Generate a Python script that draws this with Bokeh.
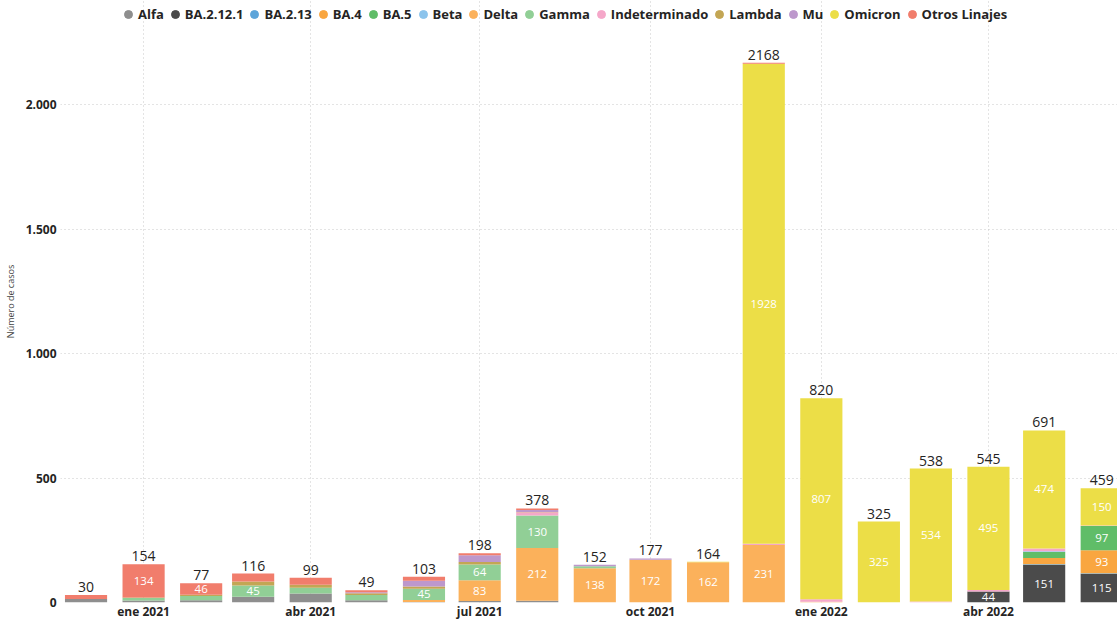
import datetime as dt
from bokeh.plotting import figure
from bokeh.models import ColumnDataSource, Legend, LegendItem, FixedTicker, Range1d
from bokeh.embed import file_html
from bokeh.resources import INLINE
from bokeh.core.properties import value

# ---------------- data ----------------
months = ["2020-12", "2021-01", "2021-02", "2021-03", "2021-04", "2021-05", "2021-06",
          "2021-07", "2021-08", "2021-09", "2021-10", "2021-11", "2021-12",
          "2022-01", "2022-02", "2022-03", "2022-04", "2022-05", "2022-06"]

lineages = ["Alfa", "BA.2.12.1", "BA.2.13", "BA.4", "BA.5", "Beta", "Delta", "Gamma",
            "Indeterminado", "Lambda", "Mu", "Omicron", "Otros Linajes"]
colors = ["#8E8E8E", "#4B4B4B", "#5DA5DA", "#F9A640", "#60BD68", "#8CC4EC", "#FBB15B",
          "#91CF96", "#F5A7C9", "#C3A654", "#BD98CC", "#ECDE47", "#F17D6C"]

alfa          = [14, 8, 9, 23, 36, 9, 2, 6, 7, 0, 0, 0, 0, 0, 0, 0, 0, 0, 0]
ba_2_12_1     = [0, 0, 0, 0, 0, 0, 0, 0, 0, 0, 0, 0, 0, 0, 0, 0, 44, 151, 115]
ba_2_13       = [0, 0, 0, 0, 0, 0, 0, 0, 0, 0, 0, 0, 0, 0, 0, 0, 0, 3, 2]
ba_4          = [0, 0, 0, 0, 0, 0, 0, 0, 0, 0, 0, 0, 0, 0, 0, 0, 0, 25, 93]
ba_5          = [0, 0, 0, 0, 0, 0, 0, 0, 0, 0, 0, 0, 0, 0, 0, 0, 0, 24, 97]
beta          = [0, 0, 0, 0, 0, 0, 0, 0, 0, 0, 0, 0, 0, 0, 0, 0, 0, 3, 0]
delta         = [0, 0, 0, 0, 0, 0, 8, 83, 212, 138, 172, 162, 231, 3, 0, 0, 0, 0, 0]
gamma         = [0, 10, 17, 45, 23, 21, 45, 64, 130, 8, 0, 0, 0, 0, 0, 0, 0, 0, 0]
indeterminado = [0, 0, 0, 0, 0, 0, 0, 0, 13, 0, 0, 0, 5, 10, 0, 4, 6, 11, 2]
lambda_       = [0, 2, 5, 16, 12, 7, 9, 10, 2, 0, 0, 0, 0, 0, 0, 0, 0, 0, 0]
mu            = [0, 0, 0, 0, 0, 4, 23, 27, 8, 6, 5, 0, 0, 0, 0, 0, 0, 0, 0]
omicron       = [0, 0, 0, 0, 0, 0, 0, 0, 0, 0, 0, 2, 1928, 807, 325, 534, 495, 474, 150]
otros         = [16, 134, 46, 32, 28, 8, 16, 8, 6, 0, 0, 0, 4, 0, 0, 0, 0, 0, 0]

series = [alfa, ba_2_12_1, ba_2_13, ba_4, ba_5, beta, delta, gamma,
          indeterminado, lambda_, mu, omicron, otros]

x_tick_dates = ["2021-01", "2021-04", "2021-07", "2021-10", "2022-01", "2022-04"]
x_tick_labels = ["ene 2021", "abr 2021", "jul 2021", "oct 2021", "ene 2022", "abr 2022"]
y_ticks = [0, 500, 1000, 1500, 2000]
y_tick_labels = ["0", "500", "1.000", "1.500", "2.000"]

# ---------------- helpers ----------------
def to_dt(s):
    y, m = s.split("-")
    return dt.datetime(int(y), int(m), 1)

def to_ms(d):
    return (d - dt.datetime(1970, 1, 1)).total_seconds() * 1000.0

DAY = 86400000.0
xs = [to_dt(m) for m in months]

data = {"x": xs}
for name, vals in zip(lineages, series):
    data[name] = vals
src = ColumnDataSource(data)

totals = [sum(v[i] for v in series) for i in range(len(months))]
tot_src = ColumnDataSource(dict(x=xs, y=totals, t=[str(t) for t in totals]))

lx, ly, lt = [], [], []
for i in range(len(months)):
    base = 0
    for vals in series:
        v = vals[i]
        if v >= 40:
            lx.append(xs[i]); ly.append(base + v / 2.0); lt.append(str(v))
        base += v
seg_src = ColumnDataSource(dict(x=lx, y=ly, t=lt))

# ---------------- figure ----------------
FONT = "Open Sans"
p = figure(width=1117, height=622, x_axis_type="datetime",
           output_backend="svg", toolbar_location=None,
           x_range=Range1d(to_ms(dt.datetime(2020, 11, 17, 6)), to_ms(dt.datetime(2022, 6, 9, 12))),
           y_range=Range1d(0, 2418),
           min_border_left=0, min_border_right=0, min_border_top=0, min_border_bottom=0)
p.outline_line_color = None
p.background_fill_color = "white"

p.vbar_stack(lineages, x="x", width=22.7 * DAY, color=colors, line_color=None, source=src)

p.text(x="x", y="y", text="t", source=tot_src, text_align="center", text_baseline="bottom",
       y_offset=-3, text_font=value(FONT), text_font_size="14px", text_color="#252423")
p.text(x="x", y="y", text="t", source=seg_src, text_align="center", text_baseline="middle",
       text_font=value(FONT), text_font_size="11.5px", text_color="white")

# axes
p.xaxis.ticker = FixedTicker(ticks=[to_ms(to_dt(d)) for d in x_tick_dates])
p.xaxis.major_label_overrides = {to_ms(to_dt(d)): l for d, l in zip(x_tick_dates, x_tick_labels)}
p.yaxis.ticker = FixedTicker(ticks=y_ticks)
p.yaxis.major_label_overrides = {t: l for t, l in zip(y_ticks, y_tick_labels)}
for ax in (p.xaxis, p.yaxis):
    ax.axis_line_color = None
    ax.major_tick_line_color = None
    ax.minor_tick_line_color = None
    ax.major_tick_out = 0
    ax.major_label_text_font = FONT
    ax.major_label_text_font_size = "12px"
    ax.major_label_text_font_style = "bold"
    ax.major_label_text_color = "#252423"
    ax.major_label_standoff = 4
p.xaxis.major_label_standoff = 0
p.yaxis.axis_label = "Número de casos"
p.yaxis.axis_label_text_font = FONT
p.yaxis.axis_label_text_font_size = "9px"
p.yaxis.axis_label_text_font_style = "normal"
p.yaxis.axis_label_text_color = "#444444"
p.yaxis.axis_label_standoff = 6

p.xgrid.grid_line_color = "#C8C8C8"
p.xgrid.grid_line_dash = "1 3"
p.ygrid.grid_line_color = "#C8C8C8"
p.ygrid.grid_line_dash = "1 3"

# legend (dummy one-row sources with NaN so nothing is drawn in the plot)
nan = float("nan")
items = []
for name, c in zip(lineages, colors):
    r = p.scatter(x=[nan], y=[nan], marker="circle", size=9, fill_color=c, line_color=c)
    items.append(LegendItem(label=name, renderers=[r]))
legend = Legend(items=items, orientation="horizontal", location=(58, 578),
                border_line_color=None, background_fill_alpha=0,
                label_text_font=FONT, label_text_font_size="13px",
                label_text_font_style="bold", label_text_color="#252423",
                glyph_width=20, glyph_height=20, label_standoff=0, spacing=1,
                padding=0, margin=0, label_height=20)
p.add_layout(legend, "center")

open("out.html", "w").write(file_html(p, INLINE))
